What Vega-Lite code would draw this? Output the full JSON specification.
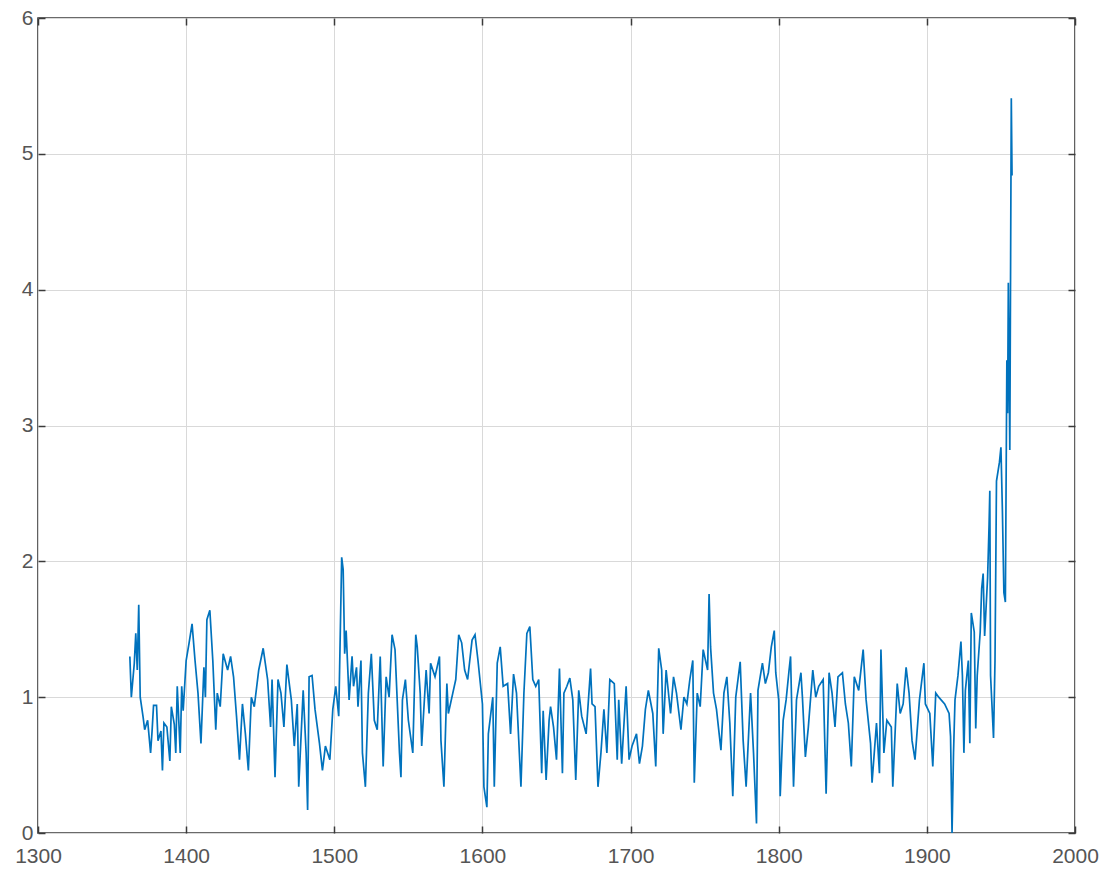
{
  "$schema": "https://vega.github.io/schema/vega-lite/v6.json",
  "width": 1037,
  "height": 815,
  "autosize": "none",
  "padding": {"left": 38, "top": 18, "right": 34, "bottom": 46},
  "background": "white",
  "config": {
    "view": {"stroke": "#3a3a3a", "strokeWidth": 1.6},
    "axis": {
      "labelFont": "Liberation Sans",
      "labelFontSize": 21,
      "labelColor": "#555555",
      "gridColor": "#d9d9d9",
      "gridWidth": 1,
      "tickColor": "#3a3a3a",
      "tickWidth": 1.5,
      "tickSize": -7,
      "domain": false,
      "title": null,
      "labelOverlap": false,
      "labelFlush": false
    }
  },
  "data": {
    "values": [
      {"year": 1362, "v": 1.3}, {"year": 1363, "v": 1.0}, {"year": 1365, "v": 1.25}, {"year": 1366, "v": 1.47}, {"year": 1367, "v": 1.2}, {"year": 1368, "v": 1.68}, {"year": 1369, "v": 1.0}, {"year": 1371, "v": 0.85}, {"year": 1372, "v": 0.76}, {"year": 1374, "v": 0.83}, {"year": 1376, "v": 0.59}, {"year": 1377, "v": 0.75}, {"year": 1378, "v": 0.94}, {"year": 1380, "v": 0.94}, {"year": 1381, "v": 0.68}, {"year": 1383, "v": 0.75}, {"year": 1384, "v": 0.46}, {"year": 1385, "v": 0.81}, {"year": 1387, "v": 0.78}, {"year": 1389, "v": 0.53}, {"year": 1390, "v": 0.93}, {"year": 1392, "v": 0.8}, {"year": 1393, "v": 0.59}, {"year": 1394, "v": 1.08}, {"year": 1396, "v": 0.59}, {"year": 1397, "v": 1.08}, {"year": 1398, "v": 0.9},
      {"year": 1400, "v": 1.27}, {"year": 1402, "v": 1.4}, {"year": 1404, "v": 1.54}, {"year": 1406, "v": 1.27}, {"year": 1408, "v": 1.03}, {"year": 1410, "v": 0.66}, {"year": 1412, "v": 1.22}, {"year": 1413, "v": 1.0}, {"year": 1414, "v": 1.57}, {"year": 1416, "v": 1.64}, {"year": 1418, "v": 1.27}, {"year": 1420, "v": 0.76}, {"year": 1421, "v": 1.03}, {"year": 1423, "v": 0.93}, {"year": 1425, "v": 1.32}, {"year": 1428, "v": 1.2}, {"year": 1430, "v": 1.3}, {"year": 1432, "v": 1.15}, {"year": 1434, "v": 0.86}, {"year": 1436, "v": 0.54}, {"year": 1438, "v": 0.95}, {"year": 1440, "v": 0.73}, {"year": 1442, "v": 0.46}, {"year": 1444, "v": 1.0}, {"year": 1446, "v": 0.93}, {"year": 1449, "v": 1.2}, {"year": 1452, "v": 1.36}, {"year": 1455, "v": 1.13}, {"year": 1457, "v": 0.78}, {"year": 1458, "v": 1.13}, {"year": 1460, "v": 0.41}, {"year": 1462, "v": 1.13}, {"year": 1464, "v": 1.03}, {"year": 1466, "v": 0.78}, {"year": 1468, "v": 1.24}, {"year": 1471, "v": 0.98}, {"year": 1473, "v": 0.64}, {"year": 1475, "v": 0.95}, {"year": 1476, "v": 0.34}, {"year": 1479, "v": 1.05}, {"year": 1481, "v": 0.59}, {"year": 1482, "v": 0.17}, {"year": 1483, "v": 1.15}, {"year": 1485, "v": 1.16}, {"year": 1487, "v": 0.91}, {"year": 1490, "v": 0.66}, {"year": 1492, "v": 0.46}, {"year": 1494, "v": 0.64}, {"year": 1497, "v": 0.54}, {"year": 1499, "v": 0.91},
      {"year": 1501, "v": 1.08}, {"year": 1503, "v": 0.86}, {"year": 1505, "v": 2.03}, {"year": 1506, "v": 1.94}, {"year": 1507, "v": 1.32}, {"year": 1508, "v": 1.49}, {"year": 1510, "v": 0.98}, {"year": 1512, "v": 1.3}, {"year": 1513, "v": 1.08}, {"year": 1515, "v": 1.22}, {"year": 1516, "v": 0.93}, {"year": 1518, "v": 1.27}, {"year": 1519, "v": 0.59}, {"year": 1521, "v": 0.34}, {"year": 1523, "v": 1.03}, {"year": 1525, "v": 1.32}, {"year": 1527, "v": 0.83}, {"year": 1529, "v": 0.76}, {"year": 1531, "v": 1.3}, {"year": 1533, "v": 0.49}, {"year": 1535, "v": 1.15}, {"year": 1537, "v": 1.0}, {"year": 1539, "v": 1.46}, {"year": 1541, "v": 1.35}, {"year": 1544, "v": 0.59}, {"year": 1545, "v": 0.41}, {"year": 1546, "v": 0.98}, {"year": 1548, "v": 1.13}, {"year": 1550, "v": 0.83}, {"year": 1553, "v": 0.59}, {"year": 1555, "v": 1.46}, {"year": 1556, "v": 1.37}, {"year": 1558, "v": 1.03}, {"year": 1559, "v": 0.64}, {"year": 1562, "v": 1.2}, {"year": 1564, "v": 0.88}, {"year": 1565, "v": 1.25}, {"year": 1568, "v": 1.15}, {"year": 1571, "v": 1.3}, {"year": 1572, "v": 0.68}, {"year": 1574, "v": 0.34}, {"year": 1576, "v": 1.1}, {"year": 1577, "v": 0.88}, {"year": 1580, "v": 1.03}, {"year": 1582, "v": 1.13}, {"year": 1584, "v": 1.46}, {"year": 1586, "v": 1.4}, {"year": 1588, "v": 1.2}, {"year": 1590, "v": 1.13}, {"year": 1593, "v": 1.42}, {"year": 1595, "v": 1.46}, {"year": 1597, "v": 1.27},
      {"year": 1600, "v": 0.95}, {"year": 1601, "v": 0.34}, {"year": 1603, "v": 0.19}, {"year": 1604, "v": 0.73}, {"year": 1607, "v": 1.0}, {"year": 1608, "v": 0.34}, {"year": 1610, "v": 1.25}, {"year": 1612, "v": 1.37}, {"year": 1614, "v": 1.08}, {"year": 1617, "v": 1.1}, {"year": 1619, "v": 0.73}, {"year": 1621, "v": 1.17}, {"year": 1623, "v": 1.03}, {"year": 1626, "v": 0.34}, {"year": 1628, "v": 1.03}, {"year": 1630, "v": 1.47}, {"year": 1632, "v": 1.52}, {"year": 1634, "v": 1.13}, {"year": 1636, "v": 1.08}, {"year": 1638, "v": 1.13}, {"year": 1640, "v": 0.44}, {"year": 1641, "v": 0.9}, {"year": 1643, "v": 0.39}, {"year": 1645, "v": 0.83}, {"year": 1646, "v": 0.93}, {"year": 1648, "v": 0.78}, {"year": 1650, "v": 0.54}, {"year": 1652, "v": 1.21}, {"year": 1654, "v": 0.44}, {"year": 1655, "v": 1.03}, {"year": 1657, "v": 1.08}, {"year": 1659, "v": 1.14}, {"year": 1661, "v": 0.98}, {"year": 1663, "v": 0.39}, {"year": 1665, "v": 1.05}, {"year": 1667, "v": 0.86}, {"year": 1670, "v": 0.73}, {"year": 1673, "v": 1.21}, {"year": 1674, "v": 0.95}, {"year": 1676, "v": 0.93}, {"year": 1678, "v": 0.34}, {"year": 1680, "v": 0.59}, {"year": 1682, "v": 0.91}, {"year": 1684, "v": 0.59}, {"year": 1686, "v": 1.13}, {"year": 1689, "v": 1.1}, {"year": 1691, "v": 0.54}, {"year": 1692, "v": 0.98}, {"year": 1694, "v": 0.51}, {"year": 1697, "v": 1.08}, {"year": 1699, "v": 0.54},
      {"year": 1701, "v": 0.64}, {"year": 1704, "v": 0.73}, {"year": 1706, "v": 0.51}, {"year": 1708, "v": 0.64}, {"year": 1710, "v": 0.91}, {"year": 1712, "v": 1.05}, {"year": 1715, "v": 0.88}, {"year": 1717, "v": 0.49}, {"year": 1719, "v": 1.36}, {"year": 1721, "v": 1.2}, {"year": 1722, "v": 0.73}, {"year": 1724, "v": 1.2}, {"year": 1727, "v": 0.88}, {"year": 1729, "v": 1.15}, {"year": 1731, "v": 1.03}, {"year": 1734, "v": 0.76}, {"year": 1736, "v": 1.0}, {"year": 1738, "v": 0.95}, {"year": 1740, "v": 1.13}, {"year": 1742, "v": 1.27}, {"year": 1743, "v": 0.37}, {"year": 1745, "v": 1.03}, {"year": 1747, "v": 0.93}, {"year": 1749, "v": 1.35}, {"year": 1752, "v": 1.2}, {"year": 1753, "v": 1.76}, {"year": 1754, "v": 1.37}, {"year": 1756, "v": 1.03}, {"year": 1758, "v": 0.91}, {"year": 1761, "v": 0.61}, {"year": 1763, "v": 1.03}, {"year": 1765, "v": 1.15}, {"year": 1767, "v": 0.81}, {"year": 1769, "v": 0.27}, {"year": 1771, "v": 1.0}, {"year": 1774, "v": 1.26}, {"year": 1776, "v": 0.68}, {"year": 1778, "v": 0.34}, {"year": 1781, "v": 1.03}, {"year": 1783, "v": 0.59}, {"year": 1785, "v": 0.07}, {"year": 1786, "v": 1.05}, {"year": 1789, "v": 1.25}, {"year": 1791, "v": 1.1}, {"year": 1793, "v": 1.18}, {"year": 1795, "v": 1.37}, {"year": 1797, "v": 1.49}, {"year": 1798, "v": 1.18},
      {"year": 1800, "v": 0.98}, {"year": 1801, "v": 0.27}, {"year": 1803, "v": 0.83}, {"year": 1805, "v": 0.98}, {"year": 1807, "v": 1.2}, {"year": 1808, "v": 1.3}, {"year": 1810, "v": 0.34}, {"year": 1812, "v": 0.98}, {"year": 1815, "v": 1.18}, {"year": 1816, "v": 1.0}, {"year": 1818, "v": 0.56}, {"year": 1820, "v": 0.78}, {"year": 1823, "v": 1.2}, {"year": 1825, "v": 1.0}, {"year": 1827, "v": 1.08}, {"year": 1830, "v": 1.13}, {"year": 1832, "v": 0.29}, {"year": 1834, "v": 1.18}, {"year": 1836, "v": 1.03}, {"year": 1838, "v": 0.78}, {"year": 1840, "v": 1.15}, {"year": 1843, "v": 1.18}, {"year": 1845, "v": 0.95}, {"year": 1847, "v": 0.81}, {"year": 1849, "v": 0.49}, {"year": 1851, "v": 1.15}, {"year": 1854, "v": 1.05}, {"year": 1857, "v": 1.35}, {"year": 1859, "v": 0.98}, {"year": 1862, "v": 0.66}, {"year": 1863, "v": 0.37}, {"year": 1866, "v": 0.81}, {"year": 1868, "v": 0.44}, {"year": 1869, "v": 1.35}, {"year": 1871, "v": 0.59}, {"year": 1873, "v": 0.83}, {"year": 1876, "v": 0.78}, {"year": 1877, "v": 0.34}, {"year": 1880, "v": 1.1}, {"year": 1882, "v": 0.88}, {"year": 1884, "v": 0.95}, {"year": 1886, "v": 1.22}, {"year": 1888, "v": 1.03}, {"year": 1890, "v": 0.68}, {"year": 1892, "v": 0.54}, {"year": 1895, "v": 0.98}, {"year": 1898, "v": 1.25}, {"year": 1899, "v": 0.95},
      {"year": 1902, "v": 0.88}, {"year": 1904, "v": 0.49}, {"year": 1906, "v": 1.03}, {"year": 1908, "v": 1.0}, {"year": 1912, "v": 0.95}, {"year": 1915, "v": 0.88}, {"year": 1916, "v": 0.71}, {"year": 1917, "v": 0.0}, {"year": 1918, "v": 0.59}, {"year": 1919, "v": 0.98}, {"year": 1921, "v": 1.16}, {"year": 1923, "v": 1.41}, {"year": 1924, "v": 1.16}, {"year": 1925, "v": 0.59}, {"year": 1926, "v": 1.05}, {"year": 1928, "v": 1.27}, {"year": 1929, "v": 0.66}, {"year": 1930, "v": 1.62}, {"year": 1932, "v": 1.48}, {"year": 1933, "v": 0.77}, {"year": 1934, "v": 1.16}, {"year": 1936, "v": 1.48}, {"year": 1937, "v": 1.8}, {"year": 1938, "v": 1.91}, {"year": 1939, "v": 1.45}, {"year": 1941, "v": 1.88}, {"year": 1942, "v": 2.27}, {"year": 1942.5, "v": 2.52}, {"year": 1943, "v": 1.16}, {"year": 1945, "v": 0.7}, {"year": 1946, "v": 1.27}, {"year": 1947, "v": 2.59}, {"year": 1949, "v": 2.73}, {"year": 1950, "v": 2.84}, {"year": 1951, "v": 2.37}, {"year": 1952, "v": 1.77}, {"year": 1953, "v": 1.7}, {"year": 1954, "v": 3.48}, {"year": 1954.5, "v": 3.09}, {"year": 1955, "v": 4.05}, {"year": 1956, "v": 2.82}, {"year": 1957, "v": 5.41}, {"year": 1957.5, "v": 4.84}
    ]
  },
  "layer": [
    {
      "mark": {"type": "line", "color": "#0072BD", "strokeWidth": 1.7, "clip": true},
      "encoding": {
        "x": {"field": "year", "type": "quantitative", "scale": {"domain": [1300, 2000], "nice": false, "zero": false},
              "axis": {"orient": "bottom", "values": [1300, 1400, 1500, 1600, 1700, 1800, 1900, 2000], "labelPadding": 19, "format": "d"}},
        "y": {"field": "v", "type": "quantitative", "scale": {"domain": [0, 6], "nice": false},
              "axis": {"orient": "left", "values": [0, 1, 2, 3, 4, 5, 6], "labelPadding": 12}}
      }
    },
    {
      "mark": {"type": "line", "opacity": 0},
      "encoding": {
        "x": {"field": "year", "type": "quantitative", "axis": {"orient": "top", "values": [1300, 1400, 1500, 1600, 1700, 1800, 1900, 2000], "labels": false, "grid": false}},
        "y": {"field": "v", "type": "quantitative", "axis": {"orient": "right", "values": [0, 1, 2, 3, 4, 5, 6], "labels": false, "grid": false}}
      }
    }
  ],
  "resolve": {"axis": {"x": "independent", "y": "independent"}}
}
